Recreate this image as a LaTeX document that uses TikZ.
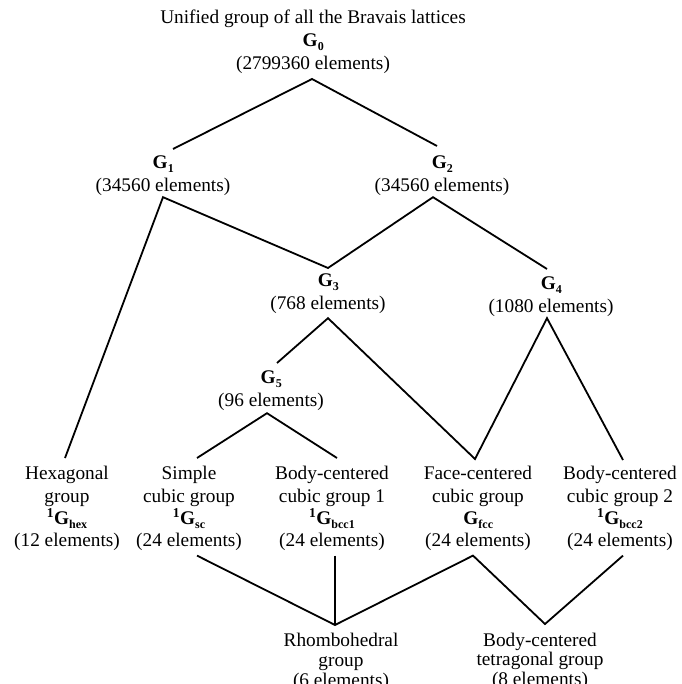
\documentclass[tikz,border=0pt]{standalone}
\usepackage{fontspec}
\setmainfont{Liberation Serif}
\newcommand{\Gsym}[2]{\textbf{\textsuperscript{#1}G\raisebox{-0.45ex}{\fontsize{12}{12}\selectfont #2}}}
\begin{document}
\begin{tikzpicture}[x=1pt,y=-1pt,
  grp/.style={inner sep=0pt,align=center,anchor=north,font=\fontsize{19.3}{23}\selectfont},
  low/.style={inner sep=0pt,align=center,anchor=north,font=\fontsize{19.3}{22.3}\selectfont},
  bot/.style={inner sep=0pt,align=center,anchor=north,font=\fontsize{19.3}{19.6}\selectfont},
  edge/.style={line width=1.8pt,line join=miter}]
\useasboundingbox (0,0) rectangle (681,684);
% upper groups
\node[grp] (G0) at (313,9.5) {Unified group of all the Bravais lattices\\ \Gsym{}{0}\\ (2799360 elements)};
\node[grp] (G1) at (163,155.6) {\Gsym{}{1}\\ (34560 elements)};
\node[grp] (G2) at (442,155.6) {\Gsym{}{2}\\ (34560 elements)};
\node[grp] (G3) at (328,273.6) {\Gsym{}{3}\\ (768 elements)};
\node[grp] (G4) at (551,276.6) {\Gsym{}{4}\\ (1080 elements)};
\node[grp] (G5) at (271,370.6) {\Gsym{}{5}\\ (96 elements)};
% lattice groups
\node[low] (hex) at (67,466.4) {Hexagonal\\ group\\ \Gsym{1}{hex}\\ (12 elements)};
\node[low] (sc) at (189,466.4) {Simple\\ cubic group\\ \Gsym{1}{sc}\\ (24 elements)};
\node[low] (bcc1) at (332,466.4) {Body-centered\\ cubic group 1\\ \Gsym{1}{bcc1}\\ (24 elements)};
\node[low] (fcc) at (478,466.4) {Face-centered\\ cubic group\\ \Gsym{}{fcc}\\ (24 elements)};
\node[low] (bcc2) at (620,466.4) {Body-centered\\ cubic group 2\\ \Gsym{1}{bcc2}\\ (24 elements)};
\node[bot] (rh) at (341,633.4) {Rhombohedral\\ group\\ (6 elements)};
\node[bot] (bct) at (540,632.5) {Body-centered\\ tetragonal group\\ (8 elements)};
% connectors
\draw[edge] ([xshift=10pt,yshift=6.6pt]G1.north) -- ([xshift=-1pt,yshift=-5.4pt]G0.south) -- ([xshift=-5pt,yshift=9.6pt]G2.north);
\draw[edge] ([xshift=-2pt,yshift=8.4pt]hex.north) -- ([yshift=-1.3pt]G1.south) -- ([yshift=5.6pt]G3.north) -- ([xshift=-9pt,yshift=-1.3pt]G2.south) -- ([xshift=-4pt,yshift=7.6pt]G4.north);
\draw[edge] ([xshift=6pt,yshift=7.6pt]G5.north) -- ([yshift=-4.3pt]G3.south) -- ([xshift=-3pt,yshift=7.4pt]fcc.north) -- ([xshift=-4pt,yshift=-1.3pt]G4.south) -- ([xshift=3pt,yshift=6.4pt]bcc2.north);
\draw[edge] ([xshift=8pt,yshift=8.4pt]sc.north) -- ([xshift=-4pt,yshift=-2.3pt]G5.south) -- ([xshift=5pt,yshift=8.4pt]bcc1.north);
\draw[edge] ([xshift=8pt,yshift=-4.4pt]sc.south) -- ([xshift=-6pt,yshift=8.4pt]rh.north) -- ([xshift=-5pt,yshift=-4.4pt]fcc.south) -- ([xshift=5pt,yshift=8.5pt]bct.north) -- ([xshift=3pt,yshift=-4.4pt]bcc2.south);
\draw[edge] ([xshift=3pt,yshift=-4.4pt]bcc1.south) -- ([xshift=-6pt,yshift=8.4pt]rh.north);
\end{tikzpicture}
\end{document}
